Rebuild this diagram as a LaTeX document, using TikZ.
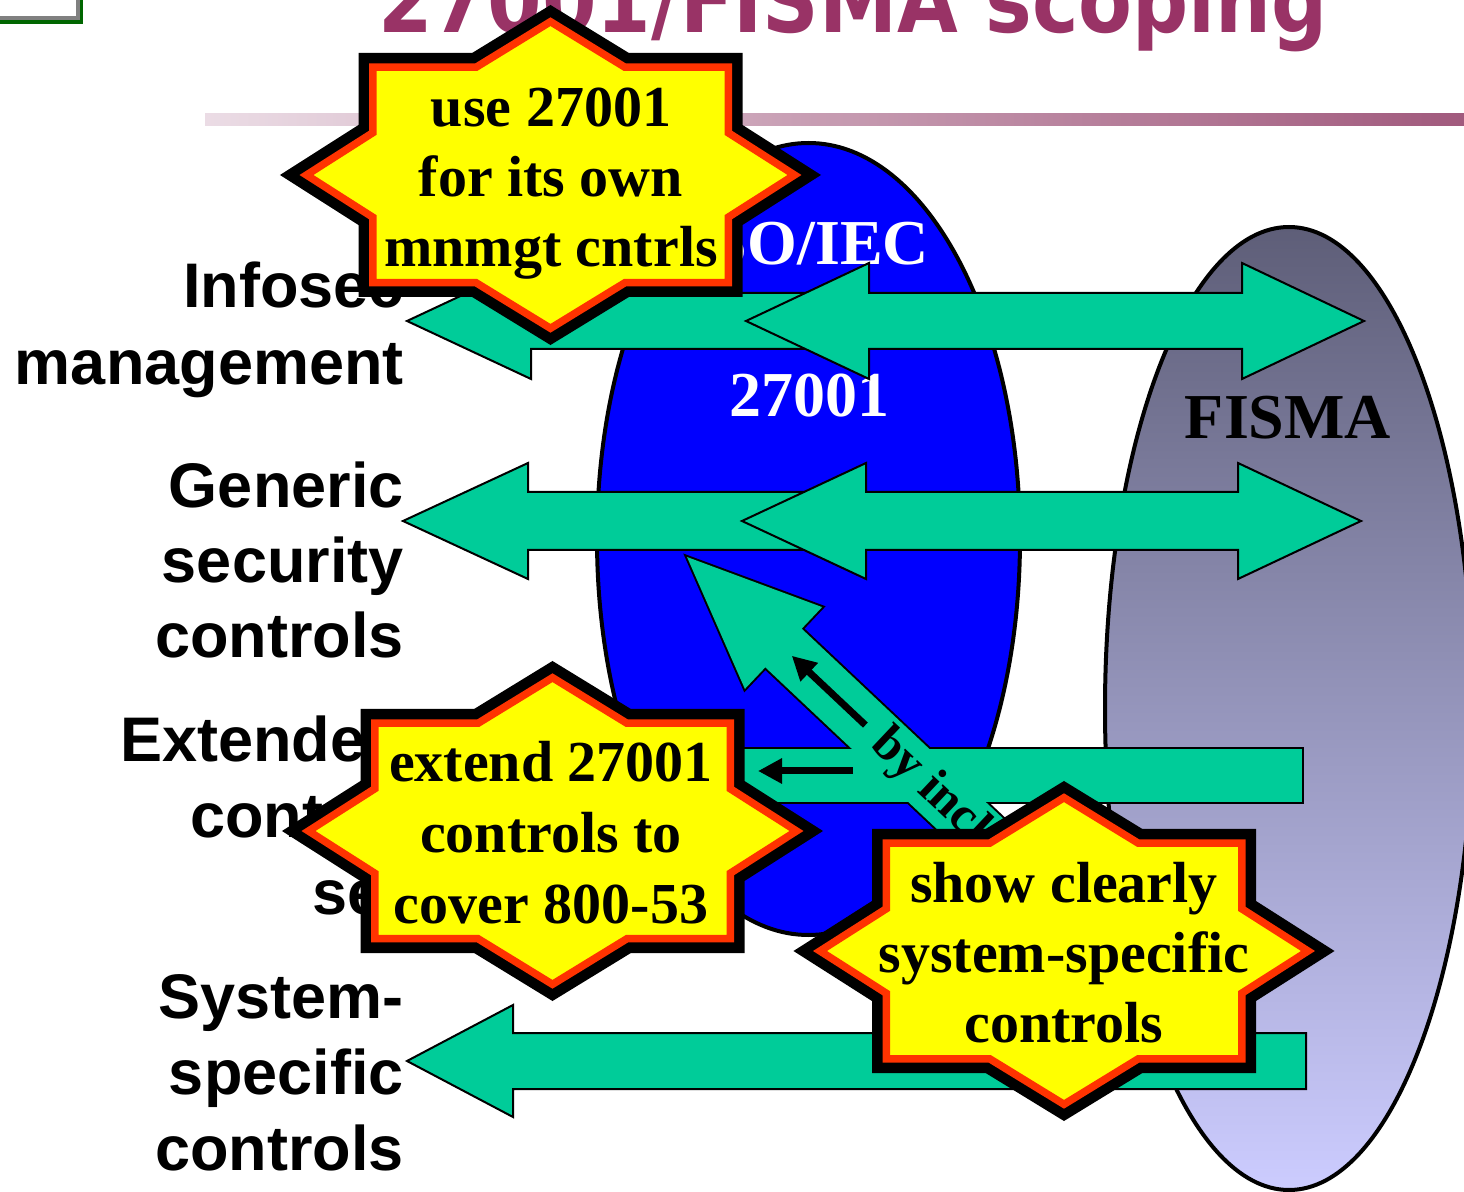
\documentclass[tikz,border=0pt]{standalone}
\usepackage{graphicx}
\usepackage{fontspec}
\setmainfont{Liberation Serif}
\newfontfamily\labelsans{Liberation Sans}
\newfontfamily\titlesans{DejaVu Sans}
\usetikzlibrary{arrows.meta}

\definecolor{arrowgreen}{HTML}{00CC99}
\definecolor{isoblue}{HTML}{0000FF}
\definecolor{staryellow}{HTML}{FFFF00}
\definecolor{starred}{HTML}{FF3300}
\definecolor{titlepurple}{HTML}{993366}
\definecolor{fismatop}{HTML}{5E5E78}
\definecolor{fismabottom}{HTML}{CCCCFF}
\definecolor{rulelight}{HTML}{EBDCE5}
\definecolor{ruledark}{HTML}{A15A7D}
\definecolor{framegreen}{HTML}{006600}

% eight-point burst, outline centred on the red band
\newcommand{\burstoutline}[1]{%
  \path[#1] (0,-153.3) -- (74.4,-107.75) -- (177.75,-107.75) -- (177.75,-42.2) -- (244,0)
   -- (177.75,42.2) -- (177.75,107.75) -- (74.4,107.75) -- (0,153.3)
   -- (-74.4,107.75) -- (-177.75,107.75) -- (-177.75,42.2) -- (-244,0)
   -- (-177.75,-42.2) -- (-177.75,-107.75) -- (-74.4,-107.75) -- cycle;}

\tikzset{
  burst/.pic={
    \burstoutline{draw=black, line width=14.25pt, miter limit=10}
    \burstoutline{fill=staryellow, draw=starred, line width=3.75pt}
  },
  blockarrow/.style={fill=arrowgreen, draw=black, line width=1pt, line join=miter},
  rowlabel/.style={anchor=base east, inner sep=0pt, font=\labelsans\bfseries\fontsize{31.5}{36}\selectfont},
  burstline/.style={anchor=base, inner sep=0pt, font=\bfseries\fontsize{29}{34}\selectfont},
  ovaltext/.style={anchor=base, inner sep=0pt, font=\bfseries\fontsize{32}{36}\selectfont},
  pointer/.style={draw=black, line width=3.5pt, -{Triangle[length=12pt,width=12pt]}},
}

\begin{document}
\begin{tikzpicture}[x=0.5pt, y=-0.5pt]
\useasboundingbox (0,0) rectangle (1464,1192);
\clip (0,0) rectangle (1464,1192);

% corner frame
\fill[framegreen] (-20,-20) rectangle (83,24);
\fill[gray] (-20,-20) rectangle (80,20);
\fill[white] (-20,-20) rectangle (76,16);

% title and rule
\node[anchor=base, inner sep=0pt, text=titlepurple,
      font=\titlesans\bfseries\fontsize{45}{50}\selectfont] (title) at (853,33)
      {\scalebox{0.872}[1]{27001/FISMA scoping}};
\shade[left color=rulelight, right color=ruledark] (205,114) rectangle (1464,126);

% row labels
\node[rowlabel] (labInfosec) at (404,308) {Infosec};
\node[rowlabel] (labMgmt) at (404,385) {management};
\node[rowlabel] (labGeneric) at (404,508) {Generic};
\node[rowlabel] (labSecurity) at (404,583) {security};
\node[rowlabel] (labControls) at (404,658) {controls};
\node[rowlabel] (labExtended) at (404,762) {Extended};
\node[rowlabel] (labControl) at (404,838) {control};
\node[rowlabel] (labSet) at (404,914) {set};
\node[rowlabel] (labSystem) at (404,1018) {System-};
\node[rowlabel] (labSpecific) at (404,1094) {specific};
\node[rowlabel] (labSysControls) at (404,1170) {controls};

% the two scopes
\shade[top color=fismatop, bottom color=fismabottom] (1289,708.5) ellipse (184 and 481.5);
\draw[line width=2pt] (1289,708.5) ellipse (184 and 481.5);
\filldraw[fill=isoblue, draw=black, line width=2pt] (808.5,539) ellipse (211.5 and 396);

\node[ovaltext, text=white] (iso) at (808,265) {ISO/IEC};
\node[ovaltext, text=white] (isonum) at (809,417) {27001};
\node[ovaltext, text=black] (fisma) at (1288,439) {FISMA};

% row 1: infosec management
\draw[blockarrow] (407,321) -- (531,263) -- (531,293) -- (840,293) -- (840,349)
  -- (531,349) -- (531,379) -- cycle;
\draw[blockarrow] (746,321) -- (869,263) -- (869,293) -- (1242,293) -- (1242,263)
  -- (1364,321) -- (1242,379) -- (1242,349) -- (869,349) -- (869,379) -- cycle;

% row 2: generic security controls
\draw[blockarrow] (403,521) -- (528,463) -- (528,492) -- (840,492) -- (840,550)
  -- (528,550) -- (528,579) -- cycle;
\draw[blockarrow] (742,521) -- (866,463) -- (866,492) -- (1238,492) -- (1238,463)
  -- (1361,521) -- (1238,579) -- (1238,550) -- (866,550) -- (866,579) -- cycle;

% row 3 and the diagonal inclusion arrow, merged into one outline
\draw[line width=2pt] (687,557) -- (822.1,607.1) -- (801.7,628.7) -- (1032.8,846.4)
  -- (996.4,885) -- (765.3,667.3) -- (744.9,688.9) -- cycle;
\draw[line width=2pt] (700,749) rectangle (1302,802);
\fill[arrowgreen] (687,557) -- (822.1,607.1) -- (801.7,628.7) -- (1032.8,846.4)
  -- (996.4,885) -- (765.3,667.3) -- (744.9,688.9) -- cycle;
\fill[arrowgreen] (700,749) rectangle (1302,802);

% row 4: system-specific controls
\draw[blockarrow] (407,1061) -- (513,1005) -- (513,1033) -- (1306,1033) -- (1306,1089)
  -- (513,1089) -- (513,1117) -- cycle;

% small direction pointers
\coordinate (rowTail) at (853,771);
\coordinate (rowHead) at (758,771);
\draw[pointer] (rowTail) -- (rowHead);
\coordinate (diagTail) at (865.4,725.1);
\coordinate (diagHead) at (791.8,655.8);
\draw[pointer] (diagTail) -- (diagHead);
\node[anchor=base west, rotate=-43.3, inner sep=0pt, font=\bfseries\fontsize{25}{30}\selectfont]
  (incl) at (868.8,746.2) {by incl};

% callout bursts
\pic at (550.5,175) {burst};
\node[burstline] (b1a) at (551,127) {use 27001};
\node[burstline] (b1b) at (551,197) {for its own};
\node[burstline] (b1c) at (551,267) {mnmgt cntrls};

\pic at (552.5,831) {burst};
\node[burstline] (b2a) at (551,782) {extend 27001};
\node[burstline] (b2b) at (551,853) {controls to};
\node[burstline] (b2c) at (551,923) {cover 800-53};

\pic at (1064,951) {burst};
\node[burstline] (b3a) at (1064,902) {show clearly};
\node[burstline] (b3b) at (1064,972) {system-specific};
\node[burstline] (b3c) at (1064,1042) {controls};
\end{tikzpicture}
\end{document}
